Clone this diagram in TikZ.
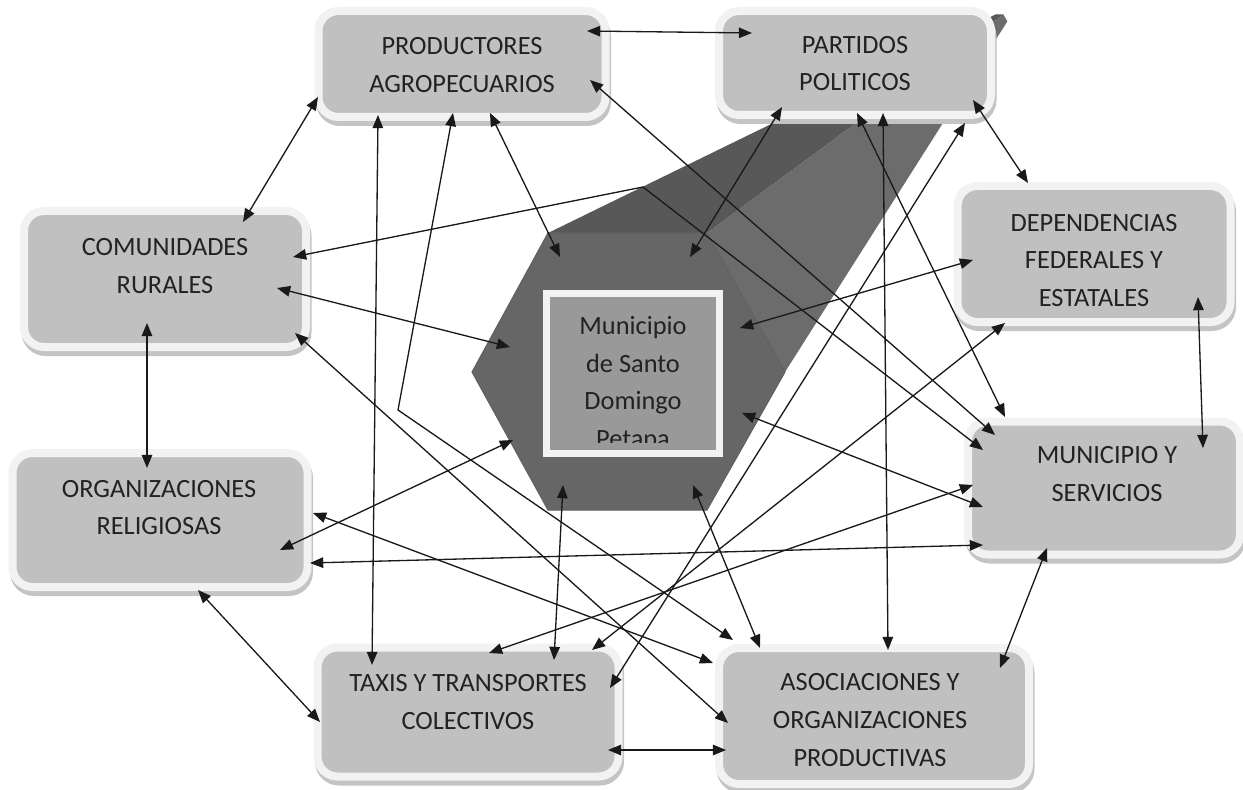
\documentclass[tikz,border=0pt]{standalone}
\usepackage{fontspec}
\setmainfont{Carlito}
\usetikzlibrary{arrows.meta,calc,shadows}
\newdimen\pxd
\pxd=0.02cm
\definecolor{cardfill}{HTML}{C0C0C0}
\definecolor{cardrim}{HTML}{F2F2F2}
\definecolor{cardshade}{HTML}{C4C4C4}
\definecolor{inkgray}{HTML}{222222}
\definecolor{hexfront}{HTML}{666666}
\definecolor{hextop}{HTML}{585858}
\definecolor{hexside}{HTML}{6C6C6C}
\definecolor{munifill}{HTML}{999999}
\tikzstyle{card}=[
  rectangle,
  fill=cardfill,
  draw=cardrim,
  line width=8\pxd,
  rounded corners=20\pxd,
  drop shadow={opacity=1, fill=cardshade, draw=cardshade, line width=8\pxd,
    shadow xshift=1.5\pxd, shadow yshift=-5\pxd},
]
\tikzstyle{cardtext}=[
  align=center,
  text=inkgray,
  font=\fontsize{15}{21.5}\selectfont,
  inner sep=0pt,
]
\tikzstyle{link}=[
  <->,
  draw=black!90,
  line width=0.75pt,
]
\tikzset{
  >={Triangle[length=7.5pt,width=6pt]},
}
\begin{document}
\begin{tikzpicture}[x=\pxd, y=-\pxd]
  \useasboundingbox [fill=white] (0,0) rectangle (1243,790);
  \coordinate (hex) at (627.5,371.5);
  \coordinate (vp) at (1019,3);
  \coordinate (hA) at (548,233);
  \coordinate (hB) at (707,233);
  \coordinate (hC) at (785,372);
  \coordinate (hD) at (707,510);
  \coordinate (hE) at (548,510);
  \coordinate (hF) at (472,372);
  \fill [hextop] (hA) -- (hB) -- ($(hB)!.95!(vp)$) -- ($(hA)!.95!(vp)$) -- cycle;
  \fill [hexside] (hB) -- (hC) -- ($(hC)!.95!(vp)$) -- ($(hB)!.95!(vp)$) -- cycle;
  \filldraw [fill=hexfront, draw=black!62, line width=0.6pt]
    (hA) -- (hB) -- (hC) -- (hD) -- (hE) -- (hF) -- cycle;
  \node (muni) [rectangle, fill=munifill, draw=cardrim, line width=7\pxd, outer sep=0pt,
    minimum width=173.5\pxd, minimum height=160\pxd] at (632.75,373.5) {};
  \begin{scope}
    \clip (muni.north west) rectangle ($(muni.south east)+(0,-11.5)$);
    \node (muni-t) [cardtext] at (633,384) {Municipio\\de Santo\\Domingo\\Petapa};
  \end{scope}

  \node (prod) [card, minimum width=287\pxd, minimum height=106\pxd] at (462,64) {};
  \node (part) [card, minimum width=272\pxd, minimum height=104\pxd] at (855,63) {};
  \node (com) [card, minimum width=282\pxd, minimum height=136\pxd] at (165,279) {};
  \node (dep) [card, minimum width=273\pxd, minimum height=136\pxd] at (1094,254) {};
  \node (mun) [card, minimum width=272\pxd, minimum height=133\pxd] at (1104,488) {};
  \node (rel) [card, minimum width=295\pxd, minimum height=134\pxd] at (160,520) {};
  \node (tax) [card, minimum width=301\pxd, minimum height=129\pxd] at (468,712) {};
  \node (aso) [card, minimum width=310\pxd, minimum height=136\pxd] at (874,716) {};
  \node (prod-t) [cardtext] at (462,65) {PRODUCTORES\\AGROPECUARIOS};
  \node (part-t) [cardtext] at (855,63.5) {PARTIDOS\\POLITICOS};
  \node (com-t) [cardtext] at (165,266) {COMUNIDADES\\RURALES};
  \node (dep-t) [cardtext] at (1094,260.5) {DEPENDENCIAS\\FEDERALES Y\\ESTATALES};
  \node (mun-t) [cardtext] at (1107,474) {MUNICIPIO Y\\SERVICIOS};
  \node (rel-t) [cardtext] at (159,507.5) {ORGANIZACIONES\\RELIGIOSAS};
  \node (tax-t) [cardtext] at (468,702) {TAXIS Y TRANSPORTES\\COLECTIVOS};
  \node (aso-t) [cardtext] at (870,720) {ASOCIACIONES Y\\ORGANIZACIONES\\PRODUCTIVAS};

  \coordinate (bendA) at (398,410);
  \coordinate (bendB) at (643,187);
  \draw [link] ($(prod)+(125,-33)$) -- ($(part)+(-103,-30)$);
  \draw [link] ($(prod)+(-144,33)$) -- ($(com)+(78,-57)$);
  \draw [link] ($(prod)+(28,49)$) -- ($(hex)+(-67.5,-114.5)$);
  \draw [link] ($(prod)+(-9,49)$) -- (bendA) -- ($(aso)+(-141,-76)$);
  \draw [link] ($(prod)+(-84,51)$) -- ($(tax)+(-96,-47)$);
  \draw [link] ($(prod)+(128,16)$) -- ($(mun)+(-109,-53)$);
  \draw [link] ($(part)+(-73,44)$) -- ($(hex)+(62.5,-114.5)$);
  \draw [link] ($(part)+(2,50)$) -- ($(mun)+(-99,-71)$);
  \draw [link] ($(part)+(28,50)$) -- ($(aso)+(14,-66)$);
  \draw [link] ($(part)+(110,60)$) -- ($(tax)+(142,-24)$);
  \draw [link] ($(part)+(118,37)$) -- ($(dep)+(-66,-71)$);
  \draw [link] ($(com)+(128,-22)$) -- (bendB) -- ($(mun)+(-121,-38)$);
  \draw [link] ($(com)+(112,9)$) -- ($(hex)+(-117.5,-24.5)$);
  \draw [link] ($(com)+(130,54)$) -- ($(aso)+(-146,7)$);
  \draw [link] ($(com)+(-18,44)$) -- ($(rel)+(-13,-52)$);
  \draw [link] ($(dep)+(-121,6)$) -- ($(hex)+(112.5,-43.5)$);
  \draw [link] ($(dep)+(-89,69)$) -- ($(tax)+(124,-62)$);
  \draw [link] ($(dep)+(104,43)$) -- ($(mun)+(99,-40)$);
  \draw [link] ($(mun)+(-131,-3)$) -- ($(tax)+(21,-59)$);
  \draw [link] ($(mun)+(-121,19)$) -- ($(hex)+(114.5,41.5)$);
  \draw [link] ($(mun)+(-121,57)$) -- ($(rel)+(150,43)$);
  \draw [link] ($(mun)+(-57,60)$) -- ($(aso)+(126,-48)$);
  \draw [link] ($(rel)+(120,30)$) -- ($(hex)+(-114.5,68.5)$);
  \draw [link] ($(rel)+(153,-7)$) -- ($(aso)+(-161,-53)$);
  \draw [link] ($(rel)+(38,70)$) -- ($(tax)+(-148,10)$);
  \draw [link] ($(tax)+(86,-52)$) -- ($(hex)+(-64.5,113.5)$);
  \draw [link] ($(tax)+(140,38)$) -- ($(aso)+(-148,34)$);
  \draw [link] ($(hex)+(65.5,113.5)$) -- ($(aso)+(-114,-68)$);
\end{tikzpicture}
\end{document}
